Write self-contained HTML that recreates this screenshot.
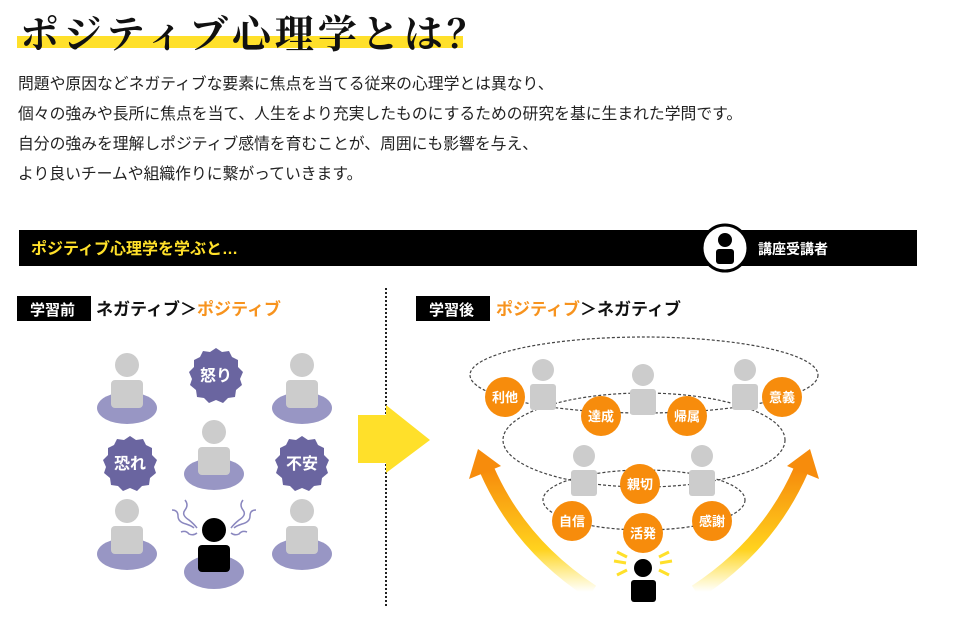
<!DOCTYPE html>
<html><head><meta charset="utf-8"><style>
body{margin:0;width:957px;height:634px;background:#fff;position:relative;overflow:hidden;font-family:"Liberation Sans","Noto Sans CJK JP",sans-serif}
.t{position:absolute;left:20px;top:4px;font-family:"Liberation Serif","Noto Serif CJK SC",serif;font-weight:bold;font-size:39px;letter-spacing:4px;color:#111;white-space:nowrap;z-index:2}
.hl{position:absolute;left:17px;top:36px;width:446px;height:12px;background:#ffe02a}
.p{position:absolute;left:18px;top:70px;font-size:15.8px;line-height:30px;color:#222;white-space:nowrap}
svg{position:absolute;left:0;top:0}
</style></head><body>
<div class="hl"></div>
<div class="t">ポジティブ心理学とは<span style="font-family:'Noto Serif CJK SC',serif">？</span></div>
<div class="p">問題や原因などネガティブな要素に焦点を当てる従来の心理学とは異なり、<br>個々の強みや長所に焦点を当て、人生をより充実したものにするための研究を基に生まれた学問です。<br>自分の強みを理解しポジティブ感情を育むことが、周囲にも影響を与え、<br>より良いチームや組織作りに繋がっていきます。</div>
<svg width="957" height="634" viewBox="0 0 957 634" font-family="Liberation Sans, Noto Sans CJK JP, sans-serif" font-weight="bold">
<defs>
<linearGradient id="gl" x1="0" y1="1" x2="0" y2="0"><stop offset="0" stop-color="#ffe02a" stop-opacity="0"/><stop offset="0.35" stop-color="#ffd21e"/><stop offset="1" stop-color="#f78c0c"/></linearGradient>
<g id="gp"><circle cx="0" cy="0" r="12" fill="#cccccc"/><rect x="-16" y="15" width="32" height="28" rx="4" fill="#cccccc"/></g>
<g id="gs"><circle cx="0" cy="0" r="11" fill="#cccccc"/><rect x="-13" y="14" width="26" height="26" rx="3" fill="#cccccc"/></g>
<path id="star" d="M0,-27 L6,-23 L13,-24 L16,-18 L22,-15 L22,-8 L27,-3 L24,4 L26,10 L20,15 L19,22 L12,23 L7,28 L0,25 L-7,28 L-12,23 L-19,22 L-20,15 L-26,10 L-24,4 L-27,-3 L-22,-8 L-22,-15 L-16,-18 L-13,-24 L-6,-23 Z" fill="#6a65a0"/>
</defs>
<rect x="19" y="230" width="898" height="36" fill="#000"/>
<text x="31" y="254" fill="#ffe02a" font-size="16">ポジティブ心理学を学ぶと…</text>
<circle cx="725" cy="248" r="23" fill="#fff" stroke="#000" stroke-width="3"/>
<circle cx="725" cy="240" r="7" fill="#000"/><rect x="716" y="249" width="18" height="15" rx="3" fill="#000"/>
<text x="758" y="254" fill="#fff" font-size="14">講座受講者</text>
<rect x="17" y="296" width="74" height="25" fill="#000"/>
<text x="30" y="315" fill="#fff" font-size="15">学習前</text>
<text x="96" y="315" font-size="17"><tspan fill="#111">ネガティブ＞</tspan><tspan fill="#f7931e">ポジティブ</tspan></text>
<rect x="416" y="296" width="74" height="25" fill="#000"/>
<text x="429" y="315" fill="#fff" font-size="15">学習後</text>
<text x="496" y="315" font-size="17"><tspan fill="#f7931e">ポジティブ</tspan><tspan fill="#111">＞ネガティブ</tspan></text>
<line x1="386" y1="288" x2="386" y2="607" stroke="#222" stroke-width="2" stroke-dasharray="2,2"/>
<g fill="#9896c4"><ellipse cx="127" cy="408" rx="30" ry="16"/><ellipse cx="302" cy="408" rx="30" ry="16"/><ellipse cx="214" cy="474" rx="30" ry="16"/><ellipse cx="127" cy="554" rx="30" ry="16"/><ellipse cx="302" cy="554" rx="30" ry="16"/><ellipse cx="214" cy="572" rx="30" ry="17"/></g>
<use href="#gp" x="127" y="365"/><use href="#gp" x="302" y="365"/><use href="#gp" x="214" y="432"/><use href="#gp" x="127" y="511"/><use href="#gp" x="302" y="511"/>
<circle cx="214" cy="530" r="12" fill="#000"/><rect x="198" y="545" width="32" height="27" rx="4" fill="#000"/>
<g stroke="#8a87bf" stroke-width="1.5" fill="none"><path d="M185,500 q4,5 0,10 q-4,5 4,10 q5,4 8,8"/><path d="M172,510 q6,0 6,6 q0,6 8,8 q6,2 8,4"/><path d="M181,532 q5,-2 8,2 q4,2 8,-1"/><path d="M243,500 q-4,5 0,10 q4,5 -4,10 q-5,4 -8,8"/><path d="M256,510 q-6,0 -6,6 q0,6 -8,8 q-6,2 -8,4"/><path d="M247,532 q-5,-2 -8,2 q-4,2 -8,-1"/></g>
<use href="#star" x="216" y="375"/><use href="#star" x="130" y="463"/><use href="#star" x="302" y="463"/>
<g fill="#fff" font-size="16" text-anchor="middle"><text x="216" y="381">怒り</text><text x="130" y="469">恐れ</text><text x="302" y="469">不安</text></g>
<path d="M358,415 H386 V405 L430,440 L386,473 V463 H358 Z" fill="#ffe02a"/>
<path d="M592,592 Q520,545 487,470" stroke="url(#gl)" stroke-width="15" fill="none"/>
<path d="M469,479 L478,449 L501,466 Z" fill="#f78c0c"/>
<path d="M696,592 Q768,545 801,470" stroke="url(#gl)" stroke-width="15" fill="none"/>
<path d="M819,479 L810,449 L787,466 Z" fill="#f78c0c"/>
<g fill="none" stroke="#444" stroke-width="1.2" stroke-dasharray="3,2"><ellipse cx="644" cy="375" rx="174" ry="38"/><ellipse cx="644" cy="440" rx="141" ry="47"/><ellipse cx="644" cy="500" rx="101" ry="30"/></g>
<use href="#gs" x="543" y="370"/><use href="#gs" x="643" y="375"/><use href="#gs" x="745" y="370"/><use href="#gs" x="584" y="456"/><use href="#gs" x="702" y="456"/>
<g fill="#f78c0c"><circle cx="505" cy="397" r="20"/><circle cx="601" cy="416" r="20"/><circle cx="687" cy="416" r="20"/><circle cx="782" cy="397" r="20"/><circle cx="640" cy="484" r="20"/><circle cx="572" cy="521" r="20"/><circle cx="643" cy="533" r="20"/><circle cx="712" cy="521" r="20"/></g>
<g fill="#fff" font-size="13" text-anchor="middle"><text x="505" y="402">利他</text><text x="601" y="421">達成</text><text x="687" y="421">帰属</text><text x="782" y="402">意義</text><text x="640" y="489">親切</text><text x="572" y="526">自信</text><text x="643" y="538">活発</text><text x="712" y="526">感謝</text></g>
<circle cx="643" cy="568" r="9" fill="#000"/><rect x="631" y="580" width="25" height="22" rx="3" fill="#000"/>
<g stroke="#ffe02a" stroke-width="3"><line x1="614" y1="561" x2="626" y2="563"/><line x1="617" y1="552" x2="627" y2="557"/><line x1="617" y1="575" x2="627" y2="570"/><line x1="672" y1="561" x2="660" y2="563"/><line x1="669" y1="552" x2="659" y2="557"/><line x1="669" y1="575" x2="659" y2="570"/></g>
</svg>
</body></html>
